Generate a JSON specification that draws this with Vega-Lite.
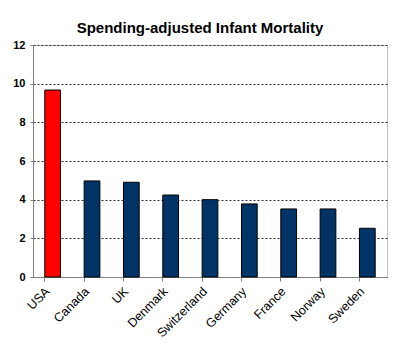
{
  "$schema": "https://vega.github.io/schema/vega-lite/v6.json",
  "width": 354,
  "height": 232,
  "autosize": {"type": "none"},
  "padding": {"left": 33, "top": 45, "right": 13, "bottom": 84},
  "background": "white",
  "title": {
    "text": "Spending-adjusted Infant Mortality",
    "font": "Liberation Sans",
    "fontSize": 15,
    "fontWeight": "bold",
    "color": "black",
    "anchor": "middle",
    "baseline": "alphabetic",
    "offset": -9,
    "dx": -10
  },
  "config": {
    "view": {"stroke": "#c0c0c0", "strokeWidth": 1},
    "font": "Liberation Sans"
  },
  "data": {
    "values": [
      {"country": "USA", "value": 9.67},
      {"country": "Canada", "value": 4.97},
      {"country": "UK", "value": 4.9},
      {"country": "Denmark", "value": 4.24},
      {"country": "Switzerland", "value": 4.0},
      {"country": "Germany", "value": 3.78},
      {"country": "France", "value": 3.52},
      {"country": "Norway", "value": 3.52},
      {"country": "Sweden", "value": 2.52}
    ]
  },
  "mark": {"type": "bar", "stroke": "black", "strokeWidth": 1},
  "encoding": {
    "x": {
      "field": "country",
      "type": "nominal",
      "sort": null,
      "scale": {"paddingInner": 0.6, "paddingOuter": 0.3},
      "axis": {
        "title": null,
        "bandPosition": 0,
        "labelOffset": -5,
        "labelAngle": -45,
        "labelAlign": "right",
        "labelBaseline": "middle",
        "labelPadding": 8,
        "labelFontSize": 12.5,
        "labelColor": "black",
        "domainColor": "#808080",
        "tickColor": "#808080",
        "tickSize": 4,
        "grid": false
      }
    },
    "y": {
      "field": "value",
      "type": "quantitative",
      "scale": {"domain": [0, 12], "nice": false},
      "axis": {
        "title": null,
        "values": [0, 2, 4, 6, 8, 10, 12],
        "labelFontSize": 11,
        "labelFontWeight": "bold",
        "labelColor": "black",
        "labelPadding": 5,
        "domainColor": "#808080",
        "tickColor": "#808080",
        "tickSize": 3,
        "grid": true,
        "gridColor": "#303030",
        "gridDash": [2, 2],
        "gridWidth": 1
      }
    },
    "color": {
      "condition": {"test": "datum.country === 'USA'", "value": "#ff0000"},
      "value": "#003366"
    }
  }
}
